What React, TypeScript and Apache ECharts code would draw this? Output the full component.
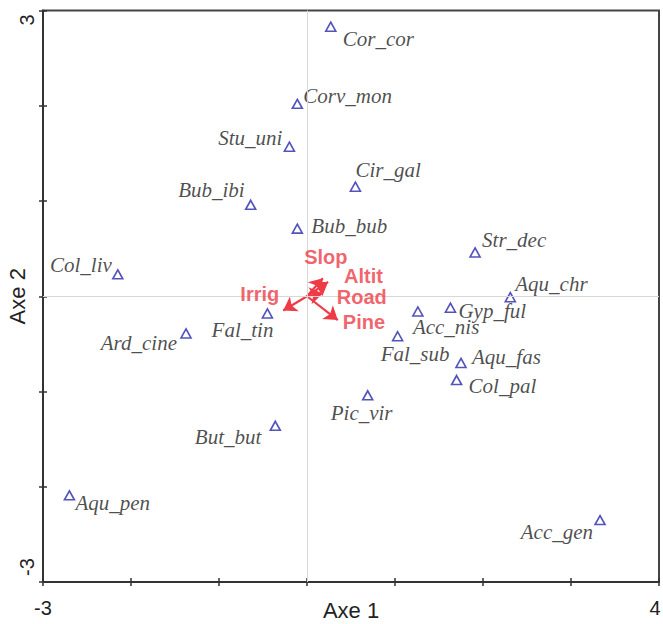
import React, { useEffect, useRef } from "react";
import * as echarts from "echarts";

// Species (triangles) — CCA scores
const speciesNames = [
  "Cor_cor", "Corv_mon", "Stu_uni", "Cir_gal", "Bub_ibi", "Bub_bub", "Str_dec",
  "Col_liv", "Aqu_chr", "Gyp_ful", "Acc_nis", "Fal_tin", "Ard_cine", "Fal_sub",
  "Aqu_fas", "Col_pal", "Pic_vir", "But_but", "Aqu_pen", "Acc_gen",
];
const speciesAxe1 = [
  0.27, -0.11, -0.2, 0.55, -0.64, -0.11, 1.91,
  -2.15, 2.31, 1.63, 1.26, -0.45, -1.375, 1.03,
  1.75, 1.7, 0.69, -0.36, -2.7, 3.33,
];
const speciesAxe2 = [
  2.83, 2.02, 1.57, 1.15, 0.96, 0.71, 0.46,
  0.23, -0.01, -0.12, -0.16, -0.18, -0.39, -0.42,
  -0.7, -0.88, -1.04, -1.36, -2.09, -2.35,
];

// Environmental variables (arrows)
const envNames = ["Slop", "Altit", "Road", "Pine", "Irrig"];
const envAxe1 = [0.18, 0.24, 0.18, 0.35, -0.27];
const envAxe2 = [0.19, 0.15, 0.03, -0.25, -0.15];

// Axes
const xMin = -3;
const xMax = 4;
const yMin = -3;
const yMax = 3;

// label placement (style only): [align, dx, dy]
const speciesLabelPlace: Record<string, [string, number, number]> = {
  Cor_cor: ["left", 12, 12],
  Corv_mon: ["left", 6, -8],
  Stu_uni: ["right", -7, -9],
  Cir_gal: ["left", 0, -17],
  Bub_ibi: ["right", -6, -15],
  Bub_bub: ["left", 14, -3],
  Str_dec: ["left", 7, -12],
  Col_liv: ["right", -6, -9],
  Aqu_chr: ["left", 5, -13],
  Gyp_ful: ["left", 8, 3],
  Acc_nis: ["left", -5, 16],
  Fal_tin: ["right", 6, 17],
  Ard_cine: ["right", -9, 10],
  Fal_sub: ["left", -17, 18],
  Aqu_fas: ["left", 11, -6],
  Col_pal: ["left", 12, 6],
  Pic_vir: ["left", -37, 18],
  But_but: ["right", -14, 11],
  Aqu_pen: ["left", 6, 8],
  Acc_gen: ["right", -7, 12],
};
const envLabelPlace: Record<string, [string, number, number]> = {
  Slop: ["center", 3, -21],
  Altit: ["left", 16, -6],
  Road: ["left", 14, 4],
  Pine: ["left", 5, 2],
  Irrig: ["right", -4, -17],
};

const RED = "#ee3b47";
const BLUE = "#2828aa";

export default function App() {
  const ref = useRef<HTMLDivElement>(null);
  useEffect(() => {
    if (!ref.current) return;
    const chart = echarts.init(ref.current, null, { renderer: "svg" });

    const speciesData = speciesNames.map((n, i) => {
      const p = speciesLabelPlace[n];
      return {
        name: n,
        value: [speciesAxe1[i], speciesAxe2[i]],
        label: { align: p[0], offset: [p[1], p[2]] },
      };
    });
    const envTipData = envNames.map((n, i) => {
      const p = envLabelPlace[n];
      return {
        name: n,
        value: [envAxe1[i], envAxe2[i]],
        label: { align: p[0], offset: [p[1], p[2]] },
      };
    });
    const envLines = envNames.map((n, i) => ({
      coords: [
        [0, 0],
        [envAxe1[i], envAxe2[i]],
      ],
    }));

    const tickLabel = (v: number, axis: "x" | "y") => {
      if (axis === "x") {
        if (v === xMin) return String(v);
        if (v === xMax) return `{max|${v}}`;
        return "";
      }
      if (v === yMax) return `{top|${v}}`;
      if (v === yMin) return `{bot|${v}}`;
      return "";
    };

    const baseX = {
      type: "value",
      min: xMin,
      max: xMax,
      interval: 1,
      splitLine: { show: false },
    };
    const baseY = {
      type: "value",
      min: yMin,
      max: yMax,
      interval: 1,
      splitLine: { show: false },
    };

    chart.setOption({
      animation: false,
      backgroundColor: "#fff",
      grid: {
        left: 43,
        right: 4,
        top: 10.5,
        bottom: 42,
        containLabel: false,
        outerBoundsMode: "none",
        show: true,
        borderColor: "#444",
        borderWidth: 2,
        backgroundColor: "transparent",
      },
      xAxis: [
        {
          ...baseX,
          position: "bottom",
          name: "Axe 1",
          nameLocation: "middle",
          nameGap: 17,
          nameMoveOverlap: false,
          nameTextStyle: { fontFamily: "Liberation Sans, Arial", fontSize: 22, color: "#222", verticalAlign: "top" },
          axisLine: { onZero: false, lineStyle: { color: "#333", width: 2 } },
          axisTick: { show: true, inside: false, length: 4, lineStyle: { color: "#333", width: 1.5 } },
          axisLabel: {
            formatter: (v: number) => tickLabel(v, "x"),
            fontFamily: "Liberation Sans, Arial",
            fontSize: 20,
            color: "#222",
            margin: 16,
            showMinLabel: true,
            showMaxLabel: true,
            rich: {
              max: { fontFamily: "Liberation Sans, Arial", fontSize: 20, color: "#222", padding: [0, 8, 0, 0] },
            },
          },
        },
        {
          ...baseX,
          position: "bottom",
          offset: 0,
          axisLine: { show: false, onZero: false },
          axisTick: { show: true, inside: true, length: 4, lineStyle: { color: "#333", width: 1.5 } },
          axisLabel: { show: false },
        },
      ],
      yAxis: [
        {
          ...baseY,
          position: "left",
          name: "Axe 2",
          nameLocation: "middle",
          nameGap: 15,
          nameMoveOverlap: false,
          nameTextStyle: { fontFamily: "Liberation Sans, Arial", fontSize: 22, color: "#222" },
          axisLine: { onZero: false, lineStyle: { color: "#333", width: 2 } },
          axisTick: { show: true, inside: false, length: 4, lineStyle: { color: "#333", width: 1.5 } },
          axisLabel: {
            formatter: (v: number) => tickLabel(v, "y"),
            rotate: 90,
            margin: 6,
            fontFamily: "Liberation Sans, Arial",
            fontSize: 20,
            color: "#222",
            showMinLabel: true,
            showMaxLabel: true,
            rich: {
              top: { fontFamily: "Liberation Sans, Arial", fontSize: 20, color: "#222", padding: [0, 19, 0, 0] },
              bot: { fontFamily: "Liberation Sans, Arial", fontSize: 20, color: "#222", padding: [0, 0, 0, 30] },
            },
          },
        },
        {
          ...baseY,
          position: "left",
          offset: 0,
          axisLine: { show: false, onZero: false },
          axisTick: { show: true, inside: true, length: 4, lineStyle: { color: "#333", width: 1.5 } },
          axisLabel: { show: false },
        },
      ],
      series: [
        {
          type: "line",
          data: [],
          silent: true,
          markLine: {
            silent: true,
            symbol: ["none", "none"],
            label: { show: false },
            lineStyle: { color: "#d8d8d8", width: 1, type: "solid" },
            data: [{ xAxis: 0 }, { yAxis: 0 }],
          },
        },
        {
          type: "lines",
          coordinateSystem: "cartesian2d",
          data: envLines,
          symbol: ["none", "arrow"],
          symbolSize: 13,
          lineStyle: { color: RED, width: 2.2, opacity: 1 },
          silent: true,
          z: 4,
        },
        {
          type: "scatter",
          data: envTipData,
          symbolSize: 0,
          silent: true,
          z: 5,
          label: {
            show: true,
            position: "inside",
            formatter: "{b}",
            verticalAlign: "middle",
            fontFamily: "Liberation Sans, Arial",
            fontWeight: "bold",
            fontSize: 20,
            color: RED,
          },
        },
        {
          type: "scatter",
          data: speciesData,
          symbol: "triangle",
          symbolSize: [10, 9],
          itemStyle: { color: "#fff", borderColor: BLUE, borderWidth: 1.6 },
          silent: true,
          z: 3,
          label: {
            show: true,
            position: "inside",
            formatter: "{b}",
            verticalAlign: "middle",
            fontFamily: "Liberation Serif, Times New Roman, serif",
            fontStyle: "italic",
            fontSize: 21,
            color: "#1e1e1e",
          },
        },
      ],
    });
    return () => chart.dispose();
  }, []);
  return <div ref={ref} style={{ width: 663, height: 624, position: "absolute", left: 0, top: 0 }} />;
}
